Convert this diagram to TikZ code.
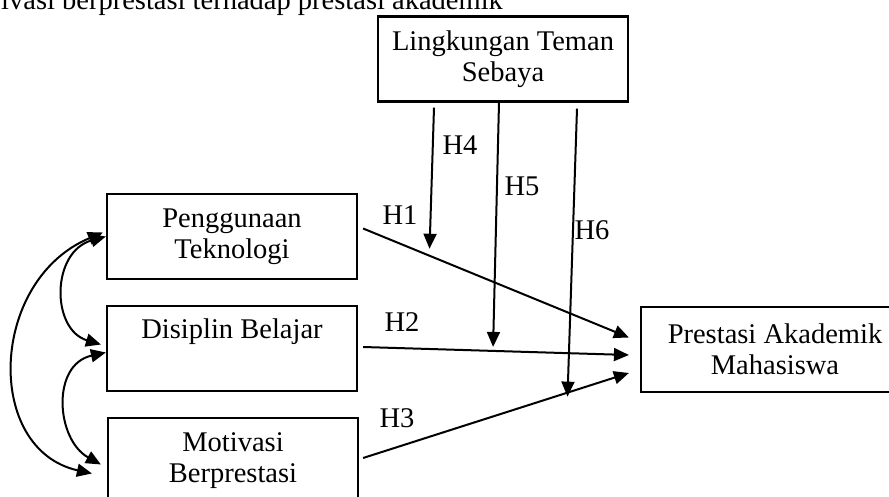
\documentclass[tikz,border=0pt]{standalone}
\usepackage{fontspec}
\setmainfont{Liberation Serif}
\usetikzlibrary{arrows.meta,calc}
\begin{document}
\begin{tikzpicture}[x=1pt,y=-1pt,
    box/.style={draw, line width=2.2pt, minimum width=250pt, minimum height=85pt,
      align=center, inner sep=0pt, font=\fontsize{28.5}{31}\selectfont},
    arr/.style={line width=2pt, -{Triangle[length=15pt,width=13pt]}},
    dbl/.style={line width=2pt, {Triangle[length=15pt,width=13pt]}-{Triangle[length=15pt,width=13pt]}},
    lbl/.style={font=\fontsize{28.5}{31}\selectfont, inner sep=0pt}]
  \useasboundingbox (0,0) rectangle (889,497);
  \clip (0,0) rectangle (889,497);
  \node[lbl, anchor=base west] (cap) at (1,10) {ivasi berprestasi terhadap prestasi akademik};
  \node[box] (teman) at (503,59) {Lingkungan Teman\\Sebaya};
  \node[box] (tek) at (232,236.5) {Penggunaan\\Teknologi};
  \node[box] (dis) at (232,348.5) {Disiplin Belajar\\\strut};
  \node[box] (mot) at (233,460.5) {Motivasi\\Berprestasi};
  \node[box, minimum width=268pt] (pres) at (775,349.5) {Prestasi Akademik\\Mahasiswa};
  % direct paths
  \draw[arr] ($(tek.east)+(5,-8)$) -- coordinate[pos=0.25] (m1) ($(pres.west)+(-11,-12)$);
  \draw[arr] ($(dis.east)+(5,-1.5)$) -- coordinate[pos=0.489] (m2) ($(pres.west)+(-11,5.5)$);
  \draw[arr] ($(mot.east)+(4,-2.5)$) -- coordinate[pos=0.769] (m3) ($(pres.west)+(-11,23.5)$);
  % moderation
  \foreach \dx/\dy/\m/\e in {-69/5/m1/-7, -4/0/m2/-4, 74/6/m3/4}
    \draw[arr] ($(teman.south)+(\dx,\dy)$) -- ($(\m)+(0,\e)$);
  % correlations
  \draw[dbl] (tek.west) .. controls +(-55,15) and +(-50,-15) .. ($(dis.west)+(-5,-4)$);
  \draw[dbl] ($(dis.west)+(0,4)$) .. controls +(-55,12) and +(-45,-25) .. ($(mot.west)+(-6,4)$);
  \draw[dbl] ($(tek.west)+(-3,-4)$) .. controls +(-114,48) and +(-108,-24) .. ($(mot.west)+(-15,13)$);
  % labels
  \foreach \n/\xy in {1/{(400,215)},2/{(402,322)},3/{(397,418)},4/{(460,145)},5/{(522,186)},6/{(592,230)}}
    \node[lbl] (h\n) at \xy {H\n};
\end{tikzpicture}
\end{document}
